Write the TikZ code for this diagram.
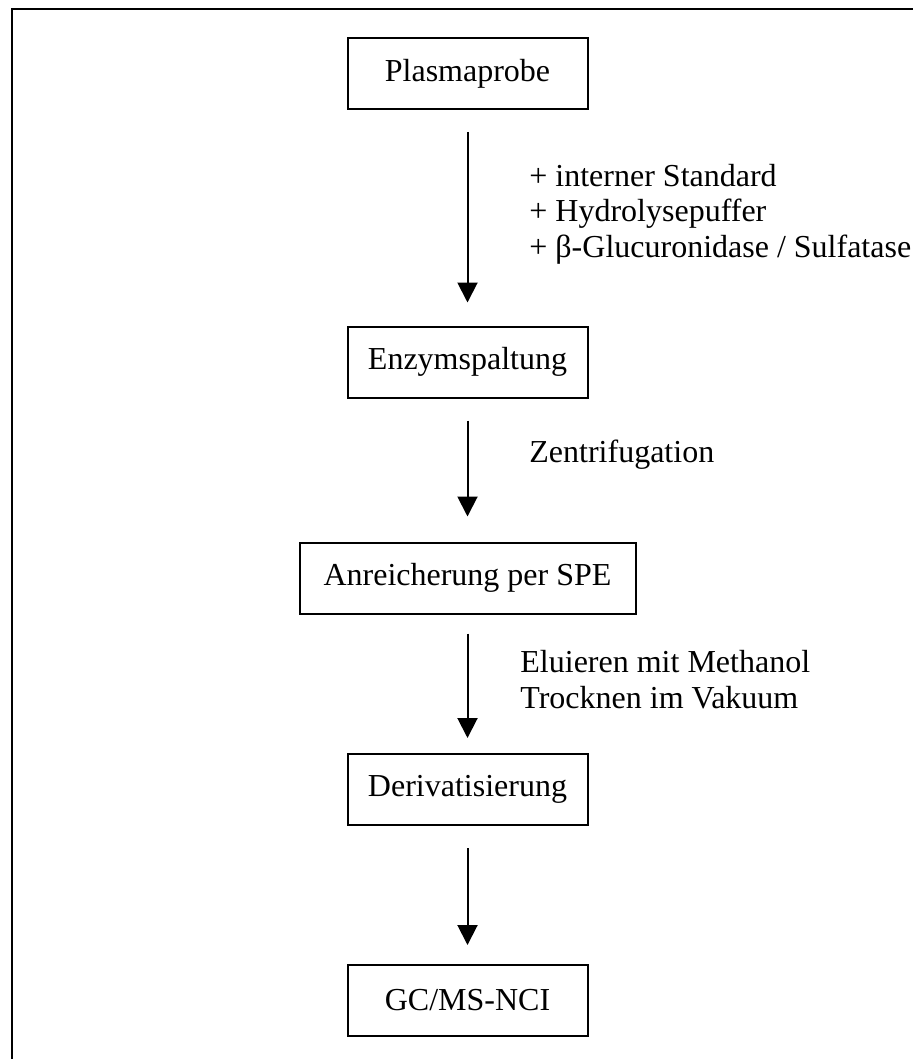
\documentclass[tikz,border=0pt]{standalone}
\usepackage{fontspec}
\setmainfont{Liberation Serif}
\usetikzlibrary{arrows.meta,positioning}

\begin{document}
\begin{tikzpicture}[>={Triangle[width=10pt,length=10pt]},x=0.5pt,y=-0.5pt]
  \tikzstyle{box}=[draw,line width=1pt,align=center,minimum width=120pt,minimum height=35.5pt,inner sep=0pt,font=\fontsize{16pt}{17.75pt}\selectfont]
  \tikzstyle{note}=[align=left,anchor=base west,inner sep=0pt,font=\fontsize{16pt}{17.75pt}\selectfont]
  \tikzstyle{flow}=[line width=1pt,->,shorten <=11pt,shorten >=11.5pt]
  \useasboundingbox (0,0) rectangle (912,1059);
  % frame, cut off at the right and at the bottom
  \draw[line width=1.4pt] (12,1075) -- (12,9) -- (930,9);
  \node[box] (probe) at (467.5,73.5) {Plasmaprobe};
  \node[box] (enzym) at (467.5,362) {Enzymspaltung};
  \node[box,minimum width=168pt] (spe) at (467.5,578) {Anreicherung per SPE};
  \node[box] (deriv) at (467.5,789.5) {Derivatisierung};
  \node[box] (gcms) at (467.5,1000.5) {GC/MS-NCI};
  \draw[flow] (probe) -- (enzym);
  \draw[flow,shorten >=12.5pt] (enzym) -- (spe);
  \draw[flow,shorten <=9.5pt,shorten >=7.5pt] (spe) -- (deriv);
  \draw[flow,shorten >=9.5pt] (deriv) -- (gcms);
  % base anchor sits on the last line
  \node[note] (zusatz) at (529,257) {+ interner Standard\\+ Hydrolysepuffer\\+ β-Glucuronidase / Sulfatase};
  \node[note] (zentr) at (529,462) {Zentrifugation};
  \node[note] (eluat) at (520,708) {Eluieren mit Methanol\\Trocknen im Vakuum};
\end{tikzpicture}
\end{document}
